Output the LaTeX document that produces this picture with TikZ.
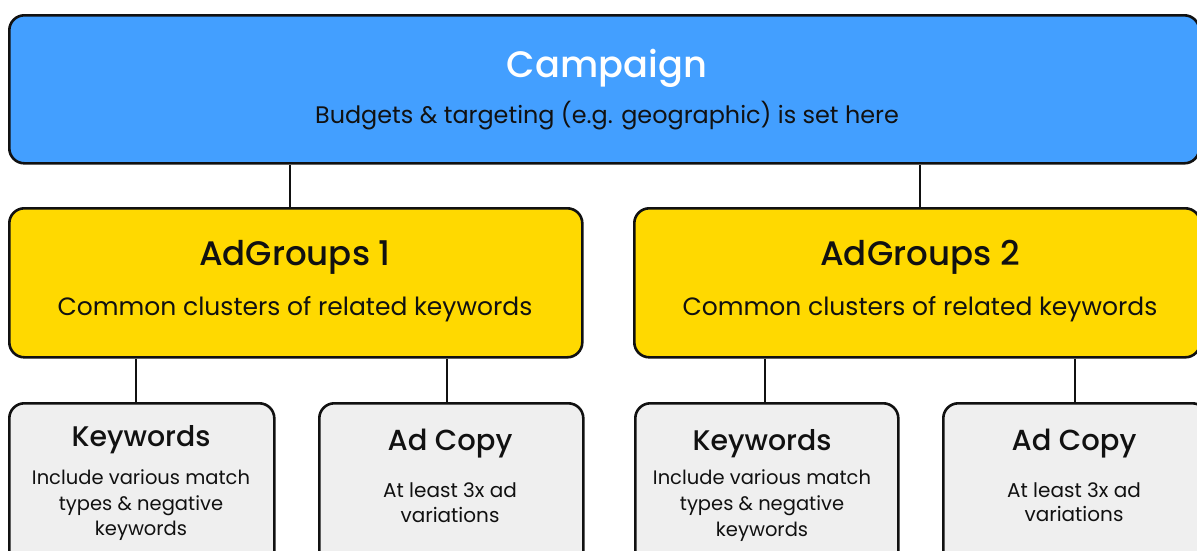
\documentclass[tikz,border=0pt]{standalone}
\usepackage{fontspec}
\setmainfont{Poppins}
\newfontfamily\medfont{Poppins Medium}
\definecolor{campblue}{HTML}{439FFF}
\definecolor{agyellow}{HTML}{FFD900}
\definecolor{boxgray}{HTML}{EFEFEF}
\definecolor{ink}{HTML}{111111}
\tikzset{
  box/.style={draw=ink, line width=2.6pt, rounded corners=15pt, anchor=north west, inner sep=0pt},
  campbox/.style={box, fill=campblue},
  agbox/.style={box, fill=agyellow},
  leafbox/.style={box, fill=boxgray},
  link/.style={draw=ink, line width=2pt},
  txt/.style={anchor=base, inner sep=0pt, text=ink},
}
\begin{document}
\begin{tikzpicture}[x=1pt, y=-1pt]
\useasboundingbox (0,0) rectangle (1197,550);
\clip (0,0) rectangle (1197,550);
\fill[white] (0,0) rectangle (1197,550);
% boxes
\node[campbox, minimum width=1190pt, minimum height=148pt] (camp) at (8,14) {};
\node[agbox, minimum width=573pt, minimum height=149pt] (ag1) at (8,207) {};
\node[agbox, minimum width=566pt, minimum height=149pt] (ag2) at (633,207) {};
\node[leafbox, minimum width=265pt, minimum height=170pt] (k1) at (8,402) {};
\node[leafbox, minimum width=264pt, minimum height=170pt] (a1) at (318,402) {};
\node[leafbox, minimum width=263pt, minimum height=170pt] (k2) at (634,402) {};
\node[leafbox, minimum width=264pt, minimum height=170pt] (a2) at (942,402) {};
% connectors
\draw[link] ([xshift=-5.5pt]ag1.north) -- ([xshift=-5.5pt]ag1.north |- camp.south);
\draw[link] ([xshift=3pt]ag2.north) -- ([xshift=3pt]ag2.north |- camp.south);
\draw[link] ([xshift=-5.5pt]k1.north) -- ([xshift=-5.5pt]k1.north |- ag1.south);
\draw[link] ([xshift=-4pt]a1.north) -- ([xshift=-4pt]a1.north |- ag1.south);
\draw[link] ([xshift=-1.5pt]k2.north) -- ([xshift=-1.5pt]k2.north |- ag2.south);
\draw[link] ([xshift=0pt]a2.north) -- ([xshift=0pt]a2.north |- ag2.south);
% texts
\node[txt, text=white, font=\medfont\fontsize{36.8}{44}\selectfont] (tcamp) at (607,77) {Campaign};
\node[txt, font=\fontsize{23.9}{28}\selectfont] (scamp) at (607,123) {Budgets \& targeting (e.g. geographic) is set here};
\node[txt, font=\medfont\fontsize{34}{40}\selectfont] (tag1) at (295,265) {AdGroups 1};
\node[txt, font=\fontsize{25}{30}\selectfont] (sag1) at (295,315) {Common clusters of related keywords};
\node[txt, font=\medfont\fontsize{34}{40}\selectfont] (tag2) at (920,265) {AdGroups 2};
\node[txt, font=\fontsize{25}{30}\selectfont] (sag2) at (920,315) {Common clusters of related keywords};
\node[txt, font=\medfont\fontsize{28.4}{34}\selectfont] (tk1) at (141,446) {Keywords};
\node[txt, font=\fontsize{19.5}{25}\selectfont] (bk1a) at (141,484) {Include various match};
\node[txt, font=\fontsize{19.5}{25}\selectfont] (bk1b) at (141,510) {types \& negative};
\node[txt, font=\fontsize{19.5}{25}\selectfont] (bk1c) at (141,535) {keywords};
\node[txt, font=\medfont\fontsize{29}{34}\selectfont] (ta1) at (450,450) {Ad Copy};
\node[txt, font=\fontsize{20}{25}\selectfont] (ba1a) at (450,497) {At least 3x ad};
\node[txt, font=\fontsize{20}{25}\selectfont] (ba1b) at (450,522) {variations};
\node[txt, font=\medfont\fontsize{28.4}{34}\selectfont] (tk2) at (762,450) {Keywords};
\node[txt, font=\fontsize{19.5}{25}\selectfont] (bk2a) at (762,484) {Include various match};
\node[txt, font=\fontsize{19.5}{25}\selectfont] (bk2b) at (762,510) {types \& negative};
\node[txt, font=\fontsize{19.5}{25}\selectfont] (bk2c) at (762,536) {keywords};
\node[txt, font=\medfont\fontsize{29}{34}\selectfont] (ta2) at (1074,450) {Ad Copy};
\node[txt, font=\fontsize{20}{25}\selectfont] (ba2a) at (1074,497) {At least 3x ad};
\node[txt, font=\fontsize{20}{25}\selectfont] (ba2b) at (1074,521) {variations};
\end{tikzpicture}
\end{document}
